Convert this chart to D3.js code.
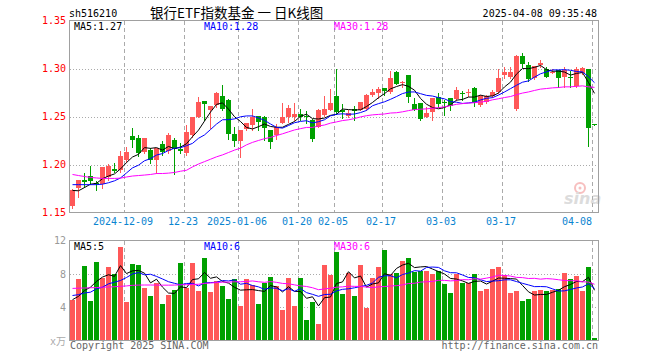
<!DOCTYPE html>
<html>
<head>
<meta charset="utf-8">
<script src="https://cdn.jsdelivr.net/npm/d3@7"></script>
<style>
body { margin: 0; background: #fff; }
svg { display: block; }
text { font-family: "DejaVu Sans Mono", monospace; font-size: 10px; }
</style>
</head>
<body>
<svg id="chart" width="660" height="360"></svg>
<script>
// trading days shown on the chart
const dates = [
  "2024-11-26","2024-11-27","2024-11-28","2024-11-29",
  "2024-12-02","2024-12-03","2024-12-04","2024-12-05","2024-12-06",
  "2024-12-09","2024-12-10","2024-12-11","2024-12-12","2024-12-13",
  "2024-12-16","2024-12-17","2024-12-18","2024-12-19","2024-12-20",
  "2024-12-23","2024-12-24","2024-12-25","2024-12-26","2024-12-27",
  "2024-12-30","2024-12-31","2025-01-02","2025-01-03",
  "2025-01-06","2025-01-07","2025-01-08","2025-01-09","2025-01-10",
  "2025-01-13","2025-01-14","2025-01-15","2025-01-16","2025-01-17",
  "2025-01-20","2025-01-21","2025-01-22","2025-01-23","2025-01-24",
  "2025-01-27","2025-02-05","2025-02-06","2025-02-07",
  "2025-02-10","2025-02-11","2025-02-12","2025-02-13","2025-02-14",
  "2025-02-17","2025-02-18","2025-02-19","2025-02-20","2025-02-21",
  "2025-02-24","2025-02-25","2025-02-26","2025-02-27","2025-02-28",
  "2025-03-03","2025-03-04","2025-03-05","2025-03-06","2025-03-07",
  "2025-03-10","2025-03-11","2025-03-12","2025-03-13","2025-03-14",
  "2025-03-17","2025-03-18","2025-03-19","2025-03-20","2025-03-21",
  "2025-03-24","2025-03-25","2025-03-26","2025-03-27","2025-03-28",
  "2025-03-31","2025-04-01","2025-04-02","2025-04-03","2025-04-07","2025-04-08"
];

const open = [1.157,1.175,1.184,1.188,1.181,1.180,1.187,1.195,1.194,1.205,
  1.230,1.228,1.213,1.215,1.205,1.221,1.214,1.225,1.216,1.212,
  1.231,1.250,1.266,1.257,1.262,1.271,1.267,1.232,1.224,1.237,
  1.241,1.251,1.250,1.236,1.231,1.243,1.250,1.250,1.253,1.251,
  1.246,1.239,1.252,1.257,1.271,1.257,1.251,1.258,1.257,1.258,
  1.272,1.274,1.280,1.276,1.296,1.285,1.293,1.263,1.264,1.250,
  1.255,1.270,1.265,1.269,1.268,1.275,1.2748,1.280,1.262,1.265,
  1.271,1.276,1.293,1.291,1.258,1.313,1.304,1.290,1.304,1.300,
  1.2955,1.298,1.291,1.291,1.282,1.295,1.299,1.242];
const high = [1.174,1.184,1.191,1.198,1.183,1.197,1.201,1.202,1.214,1.218,
  1.238,1.231,1.228,1.217,1.217,1.224,1.233,1.228,1.222,1.241,
  1.250,1.270,1.266,1.261,1.276,1.283,1.268,1.239,1.236,1.243,
  1.258,1.251,1.251,1.236,1.242,1.264,1.262,1.264,1.258,1.256,
  1.247,1.258,1.271,1.279,1.300,1.263,1.257,1.261,1.265,1.273,
  1.279,1.281,1.280,1.297,1.297,1.287,1.293,1.269,1.264,1.260,
  1.269,1.275,1.267,1.269,1.281,1.277,1.279,1.281,1.272,1.272,
  1.278,1.300,1.302,1.302,1.314,1.316,1.307,1.303,1.309,1.302,
  1.299,1.298,1.302,1.297,1.302,1.302,1.300,1.242];
const low = [1.155,1.166,1.177,1.180,1.173,1.175,1.184,1.192,1.192,1.203,
  1.218,1.209,1.212,1.202,1.191,1.210,1.212,1.190,1.212,1.210,
  1.229,1.249,1.246,1.238,1.260,1.257,1.227,1.219,1.208,1.236,
  1.236,1.236,1.226,1.217,1.227,1.243,1.244,1.246,1.246,1.243,
  1.224,1.239,1.251,1.257,1.253,1.248,1.250,1.246,1.257,1.257,
  1.271,1.269,1.272,1.275,1.284,1.281,1.265,1.257,1.246,1.250,
  1.246,1.260,1.252,1.257,1.267,1.267,1.271,1.261,1.261,1.264,
  1.270,1.275,1.290,1.290,1.257,1.302,1.287,1.289,1.302,1.291,
  1.295,1.281,1.281,1.281,1.281,1.294,1.219,1.2415];
const close = [1.173,1.184,1.182,1.183,1.180,1.197,1.198,1.193,1.209,1.213,
  1.226,1.212,1.228,1.205,1.217,1.213,1.231,1.216,1.214,1.234,
  1.250,1.265,1.263,1.261,1.274,1.258,1.232,1.224,1.236,1.243,
  1.250,1.244,1.238,1.223,1.239,1.250,1.259,1.253,1.250,1.250,
  1.227,1.257,1.258,1.264,1.255,1.255,1.254,1.256,1.265,1.272,
  1.276,1.279,1.277,1.290,1.284,1.286,1.270,1.257,1.247,1.254,
  1.269,1.263,1.264,1.261,1.278,1.273,1.2753,1.264,1.271,1.271,
  1.276,1.290,1.296,1.296,1.313,1.305,1.289,1.303,1.306,1.291,
  1.2965,1.290,1.298,1.290,1.300,1.301,1.238,1.2415];

// volume, x万
const volume = [4.90,7.41,8.93,4.78,9.41,7.53,8.81,7.97,11.2,4.66,
  9.16,9.05,6.33,5.38,6.85,4.42,5.50,6.09,9.33,6.33,
  9.33,5.95,9.88,5.85,7.15,6.57,4.98,7.37,4.14,7.37,
  6.69,4.38,6.89,7.61,6.57,3.70,7.49,4.14,7.49,2.50,
  4.62,1.99,9.09,7.89,10.6,5.58,8.13,5.34,9.05,3.90,
  7.49,8.81,10.84,7.97,8.13,9.52,9.88,8.25,8.37,8.37,
  8.01,8.37,6.77,5.70,8.01,6.89,6.89,7.97,5.93,6.2,
  8.57,8.81,7.85,5.70,5.93,4.74,4.98,5.93,6.05,5.93,
  6.05,6.17,8.09,7.37,7.73,5.93,8.81,0.31];

// moving-average values before a full window exists
const ma5Lead = [1.173,1.1726,1.176,1.1795];
const ma10Lead = [1.179,1.179,1.179,1.179,1.179,1.1795,1.181,1.183,1.186];
const ma30Lead = [1.1896,1.1885,1.1875,1.1865,1.186,1.1855,1.1855,1.1855,1.1858,1.187,
  1.188,1.1885,1.189,1.1896,1.1906,1.1906,1.191,1.1917,1.193,1.194,
  1.1975,1.2005,1.203,1.2055,1.208,1.210,1.2125,1.215,1.217];
const vMa5Lead = [4.9,5.3,6.0,6.4];
const vMa10Lead = [5.4,5.5,5.7,5.8,6.2,6.4,6.8,7.0,7.2];
const vMa30Lead = [6.25,6.28,6.3,6.33,6.35,6.4,6.42,6.45,6.5,6.55,
  6.62,6.65,6.66,6.66,6.65,6.64,6.64,6.65,6.68,6.7,
  6.72,6.75,6.85,6.9,6.95,7.0,7.0,7.05,7.05];

const priceTicks = [1.35,1.30,1.25,1.20,1.15];
const volTicks = [12,8,4];
const tickDates = ["2024-12-09","2024-12-23","2025-01-06","2025-01-20","2025-02-05",
  "2025-02-17","2025-03-03","2025-03-17","2025-04-08"];
const tickText = ["2024-12-09","12-23","2025-01-06","01-20","02-05","02-17","03-03","03-17","04-08"];

const priceLegend = ["MA5:1.27","MA10:1.28","MA30:1.28"];
const volLegend = ["MA5:5","MA10:6","MA30:6"];

const RED = "#ff5858", GREEN = "#00a000";
const maColors = ["#000000","#0000ff","#ff00ff"];

function movingAvg(values, n, lead) {
	return values.map((v, i) => {
		if (i < n - 1) return lead[i];
		return d3.mean(values.slice(i - n + 1, i + 1));
	});
}

const svg = d3.select('#chart');

const x = d3.scaleBand().domain(dates).range([69.5, 597.5])
	.paddingInner(1/6).paddingOuter(1/12);
const y = d3.scaleLinear().domain([1.15, 1.35]).range([212.5, 20.5]);
const yv = d3.scaleLinear().domain([0, 12]).range([340.5, 240.5]);
const bw = x.bandwidth();
const cx = d => x(d) + bw / 2;

// header
svg.append('text').attr('x', 69).attr('y', 17).attr('fill', '#000').text('sh516210');
svg.append('text').attr('x', 150).attr('y', 18).attr('fill', '#000')
	.style('font-family', '"Noto Sans CJK SC", sans-serif').style('font-size', '13.5px')
	.style('white-space', 'pre')
	.text('银行ETF指数基金 一 日K线图');
svg.append('text').attr('x', 597).attr('y', 17).attr('text-anchor', 'end').attr('fill', '#000')
	.text('2025-04-08 09:35:48');

// grids
function drawGrid(yScale, ticks, top, bottom) {
	svg.append('g').selectAll('line').data(ticks).enter().append('line')
		.attr('x1', 70).attr('x2', 598)
		.attr('y1', d => Math.round(yScale(d)) + 0.5).attr('y2', d => Math.round(yScale(d)) + 0.5)
		.attr('stroke', '#aaa').attr('stroke-dasharray', '1,2');
	svg.append('g').selectAll('line').data(tickDates).enter().append('line')
		.attr('x1', d => x(d) + 0.5).attr('x2', d => x(d) + 0.5)
		.attr('y1', top).attr('y2', bottom)
		.attr('stroke', '#aaa').attr('stroke-dasharray', '4,3');
}
drawGrid(y, [1.30, 1.25, 1.20], 21, 212);
drawGrid(yv, [8, 4], 241, 340);

// sina watermark
const logo = svg.append('g').attr('opacity', 0.5);
logo.append('circle').attr('cx', 580).attr('cy', 188).attr('r', 5)
	.attr('fill', 'none').attr('stroke', '#f08080').attr('stroke-width', 2);
logo.append('circle').attr('cx', 580).attr('cy', 188).attr('r', 1.5).attr('fill', '#f08080');
logo.append('text').attr('x', 564).attr('y', 204)
	.style('font-family', '"DejaVu Sans", sans-serif').style('font-size', '16px')
	.style('font-style', 'italic').style('font-weight', 'bold')
	.attr('fill', '#bbb').text('sina');

// frames
svg.append('rect').attr('x', 69.5).attr('y', 20.5).attr('width', 529).attr('height', 192)
	.attr('fill', 'none').attr('stroke', '#a0a0a0');
svg.append('rect').attr('x', 69.5).attr('y', 240.5).attr('width', 529).attr('height', 100)
	.attr('fill', 'none').attr('stroke', '#a0a0a0');

// price axis labels
const yAxis = svg.append('g').attr('transform', 'translate(69,0)')
	.call(d3.axisLeft(y).tickValues(priceTicks).tickSize(0).tickPadding(3).tickFormat(d3.format('.2f')));
yAxis.select('.domain').remove();
yAxis.selectAll('text').attr('fill', '#ff0000')
	.style('font-family', '"DejaVu Sans Mono", monospace').style('font-size', '10px');

const vAxis = svg.append('g').attr('transform', 'translate(69,0)')
	.call(d3.axisLeft(yv).tickValues(volTicks).tickSize(0).tickPadding(3));
vAxis.select('.domain').remove();
vAxis.selectAll('text').attr('fill', '#999')
	.style('font-family', '"DejaVu Sans Mono", monospace').style('font-size', '10px');
svg.append('text').attr('x', 66).attr('y', yv(0) + 4).attr('text-anchor', 'end').attr('fill', '#aaa')
	.style('font-family', '"DejaVu Sans Mono", "Noto Sans CJK SC", monospace').text('x万');

// date labels
svg.append('g').selectAll('text').data(tickDates).enter().append('text')
	.attr('x', (d, i) => i === tickDates.length - 1 ? x(d) : x(d) - 1)
	.attr('y', 225)
	.attr('text-anchor', (d, i) => i === tickDates.length - 1 ? 'end' : 'middle')
	.attr('fill', '#0a84d0')
	.text((d, i) => tickText[i]);

// candles
const candles = dates.map((d, i) => ({ d, o: open[i], h: high[i], l: low[i], c: close[i] }));
const cg = svg.append('g');
cg.selectAll('line').data(candles).enter().append('line')
	.attr('x1', k => cx(k.d)).attr('x2', k => cx(k.d))
	.attr('y1', k => Math.round(y(k.h))).attr('y2', k => Math.round(y(k.l)) + 1)
	.attr('stroke', k => k.c >= k.o ? RED : GREEN);
cg.selectAll('rect').data(candles).enter().append('rect')
	.attr('x', k => x(k.d)).attr('width', bw)
	.attr('y', k => Math.round(y(Math.max(k.o, k.c))))
	.attr('height', k => Math.max(1, Math.round(y(Math.min(k.o, k.c))) - Math.round(y(Math.max(k.o, k.c)))))
	.attr('fill', k => k.c >= k.o ? RED : GREEN);

// volume bars
svg.append('g').selectAll('rect').data(dates).enter().append('rect')
	.attr('x', d => x(d)).attr('width', bw)
	.attr('y', (d, i) => Math.round(yv(volume[i])))
	.attr('height', (d, i) => 340 - Math.round(yv(volume[i])))
	.attr('fill', (d, i) => close[i] >= open[i] ? RED : GREEN);

// moving averages
const priceMA = [movingAvg(close, 5, ma5Lead), movingAvg(close, 10, ma10Lead), movingAvg(close, 30, ma30Lead)];
const volMA = [movingAvg(volume, 5, vMa5Lead), movingAvg(volume, 10, vMa10Lead), movingAvg(volume, 30, vMa30Lead)];

function drawLines(series, scale) {
	const line = d3.line().x((v, i) => cx(dates[i])).y(v => scale(v));
	svg.append('g').selectAll('path').data(series).enter().append('path')
		.attr('d', line).attr('fill', 'none')
		.attr('stroke', (s, i) => maColors[i]).attr('stroke-width', 1);
}
drawLines(priceMA, y);
drawLines(volMA, yv);

// legends
function drawLegend(labels, yPos) {
	svg.append('g').selectAll('text').data(labels).enter().append('text')
		.attr('x', (t, i) => 74 + i * 130).attr('y', yPos)
		.attr('fill', (t, i) => maColors[i]).text(t => t);
}
drawLegend(priceLegend, 30);
drawLegend(volLegend, 250);

// footer
svg.append('text').attr('x', 70).attr('y', 349).attr('fill', '#666').text('Copyright 2025 SINA.COM');
svg.append('text').attr('x', 598).attr('y', 349).attr('text-anchor', 'end').attr('fill', '#666')
	.text('http://finance.sina.com.cn');
</script>
</body>
</html>
